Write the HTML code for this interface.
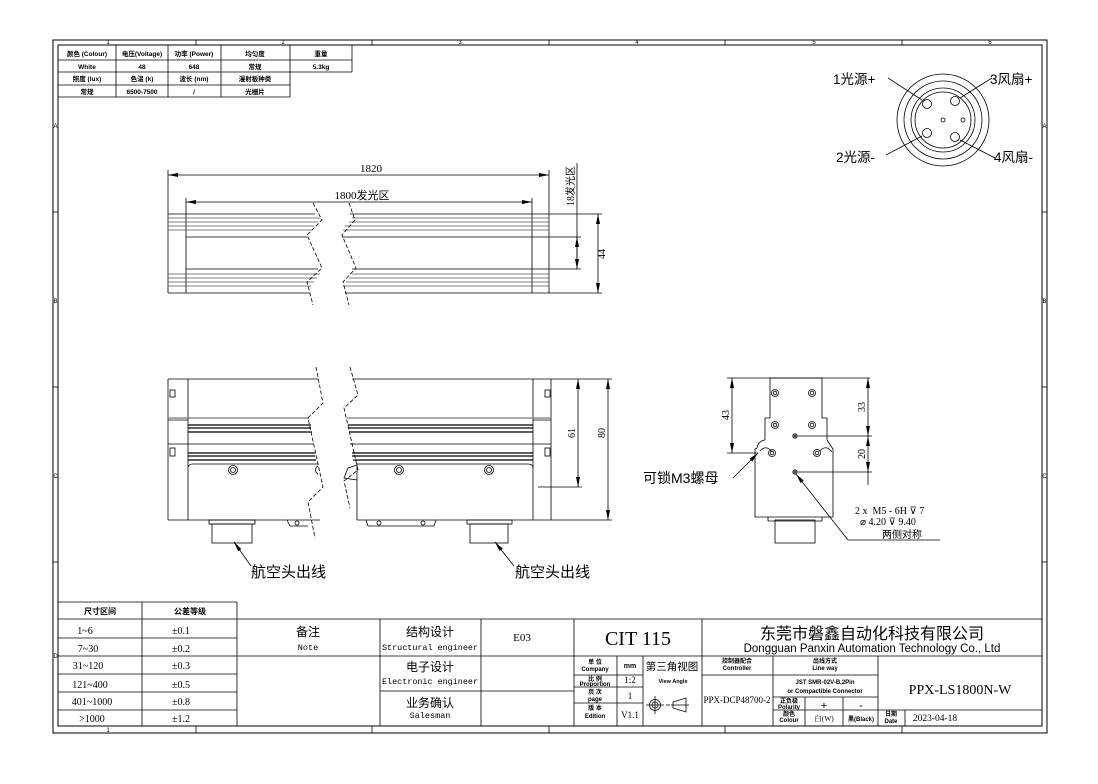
<!DOCTYPE html>
<html><head><meta charset="utf-8"><style>
html,body{margin:0;padding:0;background:#fff}
svg{display:block}
.s{font-family:"Liberation Sans","Noto Sans CJK SC",sans-serif}
.m{font-family:"Liberation Serif","Noto Serif CJK SC",serif}
.c{font-family:"Liberation Mono","Noto Sans CJK SC",monospace}
</style></head><body>
<svg width="1098" height="784" viewBox="0 0 1098 784" xmlns="http://www.w3.org/2000/svg" stroke="#000" fill="none" stroke-width="1">
<defs>
<marker id="a" viewBox="0 0 10 4" refX="10" refY="2" markerWidth="10" markerHeight="4" orient="auto-start-reverse" markerUnits="userSpaceOnUse"><path d="M0,0L10,2L0,4z" fill="#000" stroke="none"/></marker>
</defs>
<rect x="53" y="40" width="994" height="693"/>
<rect x="58" y="45" width="984" height="681"/>
<g stroke-width="0.8">
<line x1="196" y1="40" x2="196" y2="45"/><line x1="372" y1="40" x2="372" y2="45"/><line x1="549" y1="40" x2="549" y2="45"/><line x1="725" y1="40" x2="725" y2="45"/><line x1="902" y1="40" x2="902" y2="45"/>
<line x1="196" y1="726" x2="196" y2="733"/><line x1="372" y1="726" x2="372" y2="733"/><line x1="549" y1="726" x2="549" y2="733"/><line x1="725" y1="726" x2="725" y2="733"/><line x1="902" y1="726" x2="902" y2="733"/>
<line x1="53" y1="212" x2="58" y2="212"/><line x1="53" y1="387" x2="58" y2="387"/><line x1="53" y1="562" x2="58" y2="562"/>
<line x1="1042" y1="212" x2="1047" y2="212"/><line x1="1042" y1="387" x2="1047" y2="387"/><line x1="1042" y1="562" x2="1047" y2="562"/>
</g>
<g class="s" font-size="6" fill="#000" stroke="none" text-anchor="middle">
<text x="108" y="44">1</text><text x="283" y="44">2</text><text x="460" y="44">3</text><text x="637" y="44">4</text><text x="814" y="44">5</text><text x="990" y="44">6</text>
<text x="108" y="732">1</text>
<text x="55.5" y="128">A</text><text x="55.5" y="303">B</text><text x="55.5" y="478">C</text><text x="55.5" y="658">D</text>
<text x="1044.5" y="128">A</text><text x="1044.5" y="303">B</text><text x="1044.5" y="478">C</text>
</g>
<g stroke-width="0.8">
<line x1="58" y1="60" x2="352" y2="60"/><line x1="58" y1="72" x2="352" y2="72"/><line x1="58" y1="85" x2="290" y2="85"/><line x1="58" y1="97" x2="290" y2="97"/>
<line x1="116" y1="45" x2="116" y2="97"/><line x1="168" y1="45" x2="168" y2="97"/><line x1="221" y1="45" x2="221" y2="97"/><line x1="290" y1="45" x2="290" y2="97"/><line x1="352" y1="45" x2="352" y2="72"/>
</g>
<g class="s" font-size="6.5" fill="#000" stroke="none" text-anchor="middle" font-weight="bold">
<text x="87" y="56">颜色 (Colour)</text><text x="142" y="56">电压(Voltage)</text><text x="194" y="56">功率 (Power)</text><text x="255" y="56">均匀度</text><text x="321" y="56">重量</text>
<text x="87" y="69">White</text><text x="142" y="69">48</text><text x="194" y="69">648</text><text x="255" y="69">常规</text><text x="321" y="69">5.3kg</text>
<text x="87" y="81">照度 (lux)</text><text x="142" y="81">色温 (k)</text><text x="194" y="81">波长 (nm)</text><text x="255" y="81">漫射板种类</text>
<text x="87" y="94">常规</text><text x="142" y="94">6500-7500</text><text x="194" y="94">/</text><text x="255" y="94">光栅片</text>
</g>
<g stroke-width="0.8">
<line x1="58" y1="602" x2="237" y2="602"/><line x1="58" y1="619" x2="1042" y2="619"/>
<line x1="58" y1="638" x2="237" y2="638"/><line x1="58" y1="656" x2="574" y2="656"/><line x1="58" y1="674" x2="237" y2="674"/><line x1="58" y1="692" x2="237" y2="692"/><line x1="380" y1="691" x2="574" y2="691"/><line x1="58" y1="710" x2="237" y2="710"/>
<line x1="142" y1="602" x2="142" y2="726"/><line x1="237" y1="602" x2="237" y2="726"/>
<line x1="380" y1="619" x2="380" y2="726"/><line x1="481" y1="619" x2="481" y2="726"/><line x1="574" y1="619" x2="574" y2="726"/>
<line x1="702" y1="619" x2="702" y2="726"/>
<line x1="574" y1="656" x2="1042" y2="656"/>
<line x1="574" y1="675" x2="643" y2="675"/><line x1="574" y1="687" x2="643" y2="687"/><line x1="574" y1="703" x2="643" y2="703"/>
<line x1="617" y1="656" x2="617" y2="726"/><line x1="643" y1="656" x2="643" y2="726"/>
<line x1="702" y1="675" x2="878" y2="675"/><line x1="773" y1="656" x2="773" y2="726"/><line x1="878" y1="656" x2="878" y2="726"/>
<line x1="773" y1="697" x2="878" y2="697"/><line x1="773" y1="710" x2="1042" y2="710"/>
<line x1="805" y1="697" x2="805" y2="726"/><line x1="843" y1="697" x2="843" y2="726"/><line x1="905" y1="710" x2="905" y2="726"/>
</g>
<g fill="#000" stroke="none" text-anchor="middle">
<g class="s" font-size="8" font-weight="bold"><text x="100" y="614">尺寸区间</text><text x="190" y="614">公差等级</text></g>
<g class="m" font-size="10">
<text x="85" y="634">1~6</text><text x="88" y="652">7~30</text><text x="88" y="669">31~120</text><text x="90" y="688">121~400</text><text x="92" y="705">401~1000</text><text x="92" y="722">&gt;1000</text>
<text x="181" y="634">±0.1</text><text x="181" y="652">±0.2</text><text x="181" y="669">±0.3</text><text x="181" y="688">±0.5</text><text x="181" y="705">±0.8</text><text x="181" y="722">±1.2</text>
</g>
<g class="s" font-size="12"><text x="308" y="636">备注</text><text x="430" y="636">结构设计</text><text x="430" y="671">电子设计</text><text x="430" y="707">业务确认</text></g>
<g class="c" font-size="8.5"><text x="308" y="650">Note</text><text x="430" y="650" textLength="96" lengthAdjust="spacingAndGlyphs">Structural engineer</text><text x="430" y="684" textLength="96" lengthAdjust="spacingAndGlyphs">Electronic engineer</text><text x="430" y="718">Salesman</text></g>
<text class="m" x="522" y="641" font-size="11">E03</text>
<text class="m" x="638" y="645" font-size="20">CIT 115</text>
<text class="s" x="872" y="639" font-size="16">东莞市磐鑫自动化科技有限公司</text>
<text class="s" x="872" y="652" font-size="11.5">Dongguan Panxin Automation Technology Co., Ltd</text>
<g class="s" font-size="6" font-weight="bold">
<text x="595" y="664">单 位</text><text x="595" y="671">Company</text>
<text x="595" y="681">比 例</text><text x="595" y="686">Proportion</text>
<text x="595" y="694">页 次</text><text x="595" y="701">page</text>
<text x="595" y="710">版 本</text><text x="595" y="718">Edition</text>
<text x="630" y="668" font-size="7">mm</text>
<text x="737" y="663">控制器配合</text><text x="737" y="670">Controller</text>
<text x="825" y="663">出线方式</text><text x="825" y="670">Line way</text>
<text x="825" y="684">JST SMR-02V-B,2Pin</text><text x="825" y="693">or Compactible Connector</text>
<text x="789" y="703">正负极</text><text x="789" y="709">Polarity</text>
<text x="789" y="716">颜色</text><text x="789" y="722">Colour</text>
<text x="861" y="721">黑(Black)</text>
<text x="891" y="716">日期</text><text x="891" y="723">Date</text>
<text x="673" y="683" font-size="5.5">View Angle</text>
</g>
<g class="m" font-size="9">
<text x="630" y="683">1:2</text><text x="630" y="699">1</text><text x="630" y="718">V1.1</text>
<text x="737" y="703">PPX-DCP48700-2</text>
<text x="824" y="721" font-size="7.5">白(W)</text>
<text x="960" y="694" font-size="14">PPX-LS1800N-W</text>
<text x="935" y="721" font-size="9.5">2023-04-18</text>
</g>
<text class="s" x="672" y="670" font-size="10.5">第三角视图</text>
<text class="s" x="824" y="709" font-size="11">+</text><text class="s" x="861" y="709" font-size="11">-</text>
</g>
<g stroke-width="0.8">
<circle cx="655" cy="705" r="5.5"/><circle cx="655" cy="705" r="3"/><line x1="646" y1="705" x2="664" y2="705"/><line x1="655" y1="696" x2="655" y2="714"/>
<line x1="666" y1="705" x2="670" y2="705"/>
<path d="M673,702 L686,698 L686,712 L673,708 Z"/><line x1="671" y1="705" x2="689" y2="705"/>
</g>

<g stroke-width="0.8">
<line x1="168" y1="214" x2="315" y2="214"/><line x1="350" y1="214" x2="549" y2="214"/>
<line x1="168" y1="293" x2="310" y2="293"/><line x1="345" y1="293" x2="549" y2="293"/>
<line x1="168" y1="214" x2="168" y2="293"/><line x1="186" y1="214" x2="186" y2="293"/><line x1="532" y1="214" x2="532" y2="293"/><line x1="549" y1="214" x2="549" y2="293"/>
<g stroke="#555">
<line x1="168" y1="218" x2="320" y2="218"/><line x1="352" y1="218" x2="549" y2="218"/>
<line x1="168" y1="222" x2="318" y2="222"/><line x1="349" y1="222" x2="549" y2="222"/>
<line x1="168" y1="226" x2="314" y2="226"/><line x1="345" y1="226" x2="549" y2="226"/>
<line x1="168" y1="230" x2="311" y2="230"/><line x1="343" y1="230" x2="549" y2="230"/>
<line x1="168" y1="274" x2="320" y2="274"/><line x1="352" y1="274" x2="549" y2="274"/>
<line x1="168" y1="278" x2="317" y2="278"/><line x1="349" y1="278" x2="549" y2="278"/>
<line x1="168" y1="282" x2="314" y2="282"/><line x1="346" y1="282" x2="549" y2="282"/>
<line x1="168" y1="286" x2="311" y2="286"/><line x1="343" y1="286" x2="549" y2="286"/>
</g>
<line x1="186" y1="237" x2="307" y2="237"/><line x1="342" y1="237" x2="532" y2="237"/>
<line x1="186" y1="269" x2="318" y2="269"/><line x1="352" y1="269" x2="532" y2="269"/>
<path d="M313,203 L322,220 L307,235 L322,268 L307,282 L313,305" stroke-dasharray="4,2"/>
<path d="M349,203 L355,220 L342,235 L356,268 L343,282 L349,305" stroke-dasharray="4,2"/>
<line x1="168" y1="170" x2="168" y2="214"/><line x1="549" y1="170" x2="549" y2="214"/>
<line x1="168" y1="175" x2="549" y2="175" marker-start="url(#a)" marker-end="url(#a)"/>
<line x1="186" y1="198" x2="186" y2="214"/><line x1="532" y1="198" x2="532" y2="214"/>
<line x1="186" y1="202" x2="532" y2="202" marker-start="url(#a)" marker-end="url(#a)"/>
<line x1="549" y1="214" x2="602" y2="214"/><line x1="549" y1="293" x2="602" y2="293"/>
<line x1="598" y1="214" x2="598" y2="293" marker-start="url(#a)" marker-end="url(#a)"/>
<line x1="532" y1="237" x2="581" y2="237"/><line x1="532" y1="269" x2="581" y2="269"/>
<line x1="577" y1="163" x2="577" y2="269"/>
<line x1="577" y1="237" x2="577" y2="269" marker-start="url(#a)" marker-end="url(#a)"/>
</g>
<g fill="#000" stroke="none">
<text class="m" x="371" y="172" font-size="11" text-anchor="middle">1820</text>
<text class="m" x="362" y="199" font-size="11" text-anchor="middle">1800<tspan class="s">发光区</tspan></text>
<text class="m" x="0" y="0" font-size="10" text-anchor="middle" transform="translate(605,254) rotate(-90)">44</text>
<text class="m" x="0" y="0" font-size="10" text-anchor="middle" transform="translate(574,186) rotate(-90)">18<tspan class="s">发光区</tspan></text>
</g>

<g stroke-width="0.8">
<line x1="168" y1="379" x2="318" y2="379"/><line x1="352" y1="379" x2="551" y2="379"/>
<line x1="168" y1="379" x2="168" y2="520"/><line x1="188" y1="379" x2="188" y2="520"/><line x1="533" y1="379" x2="533" y2="520"/><line x1="551" y1="379" x2="551" y2="520"/>
<rect x="170" y="390" width="5" height="7"/><rect x="545" y="390" width="5" height="7"/><rect x="170" y="448" width="5" height="8"/><rect x="545" y="448" width="5" height="8"/>
<g stroke="#777" stroke-width="1.3"><line x1="168" y1="418" x2="309" y2="418"/><line x1="347" y1="418" x2="551" y2="418"/></g>
<g stroke-width="1.2">
<line x1="188" y1="425" x2="311" y2="425"/><line x1="348" y1="425" x2="533" y2="425"/>
<line x1="188" y1="428" x2="311" y2="428"/><line x1="348" y1="428" x2="533" y2="428"/>
<line x1="188" y1="432" x2="312" y2="432"/><line x1="349" y1="432" x2="533" y2="432"/>
<line x1="188" y1="453" x2="315" y2="453"/><line x1="352" y1="453" x2="533" y2="453"/>
<line x1="188" y1="456" x2="315" y2="456"/><line x1="352" y1="456" x2="533" y2="456"/>
<line x1="188" y1="460" x2="316" y2="460"/><line x1="353" y1="460" x2="533" y2="460"/>
</g>
<line x1="168" y1="444" x2="314" y2="444"/><line x1="350" y1="444" x2="551" y2="444"/>
<line x1="168" y1="420" x2="188" y2="420"/><line x1="533" y1="420" x2="551" y2="420"/>
<path d="M188,467 Q189,464 193,464 L318,464"/><path d="M357,464 L528,464 Q533,464 533,468"/>
<line x1="168" y1="520" x2="320" y2="520"/><line x1="357" y1="520" x2="551" y2="520"/>
<line x1="357" y1="464" x2="357" y2="520"/>
<path d="M357,465 L348,468 L344,478 L357,480"/>
<circle cx="233" cy="470" r="4.5"/><circle cx="233" cy="470" r="2.5"/>
<circle cx="399" cy="470" r="4.5"/><circle cx="399" cy="470" r="2.5"/>
<circle cx="489" cy="470" r="4.5"/><circle cx="489" cy="470" r="2.5"/>
<path d="M318,466 A4.5,4.5 0 0 0 318,474"/>
<rect x="209" y="520" width="46" height="4"/><rect x="212" y="524" width="40" height="19"/>
<rect x="467" y="520" width="45" height="4"/><rect x="470" y="524" width="38" height="19"/>
<path d="M366,520 L368,526 L434,526 L436,520"/><circle cx="379" cy="523" r="2"/><circle cx="423" cy="523" r="2"/>
<path d="M287,520 L290,526 L308,526"/><circle cx="297" cy="523" r="2"/>
<path d="M316,367 L323,403 L308,418 L323,487 L308,502 L315,538" stroke-dasharray="4,2"/>
<path d="M350,367 L358,395 L344,408 L358,470 L344,481 L350,508" stroke-dasharray="4,2"/>
<line x1="551" y1="379" x2="612" y2="379"/><line x1="551" y1="520" x2="612" y2="520"/><line x1="538" y1="487" x2="582" y2="487"/>
<line x1="578" y1="379" x2="578" y2="487" marker-start="url(#a)" marker-end="url(#a)"/>
<line x1="608" y1="379" x2="608" y2="520" marker-start="url(#a)" marker-end="url(#a)"/>
<line x1="251" y1="566" x2="234" y2="542" marker-end="url(#a)"/>
<line x1="514" y1="566" x2="495" y2="542" marker-end="url(#a)"/>
</g>
<g fill="#000" stroke="none">
<text class="m" font-size="10" text-anchor="middle" transform="translate(575,433) rotate(-90)">61</text>
<text class="m" font-size="10" text-anchor="middle" transform="translate(605,433) rotate(-90)">80</text>
<text class="s" x="251" y="577" font-size="15">航空头出线</text>
<text class="s" x="515" y="577" font-size="15">航空头出线</text>
</g>

<g stroke-width="0.8">
<path d="M770,378 L770,418 L765,418 L765,440 M827,440 L827,418 L822,418 L822,378 L770,378"/>
<path d="M765,440 Q758,441 757,448 L755,449 L755,517 L833,517 L833,449 L827,440"/>
<path d="M760,451 Q766,444 772,452"/><path d="M820,451 Q826,444 832,452"/>
<rect x="775" y="520" width="40" height="23"/><path d="M768,517 L768,521 L822,521 L822,517"/>
<circle cx="775" cy="393" r="3.5"/><circle cx="775" cy="393" r="1.8"/>
<circle cx="812" cy="393" r="3.5"/><circle cx="812" cy="393" r="1.8"/>
<circle cx="775" cy="425" r="3.5"/><circle cx="775" cy="425" r="1.8"/>
<circle cx="812" cy="425" r="3.5"/><circle cx="812" cy="425" r="1.8"/>
<circle cx="772" cy="453" r="3.5"/><circle cx="772" cy="453" r="1.8"/>
<circle cx="817" cy="453" r="3.5"/><circle cx="817" cy="453" r="1.8"/>
<circle cx="795" cy="436" r="2.2"/><circle cx="795" cy="436" r="1"/>
<circle cx="795" cy="472" r="2.2"/><circle cx="795" cy="472" r="1"/>
<line x1="770" y1="378" x2="870" y2="378"/><line x1="727" y1="378" x2="770" y2="378"/><line x1="727" y1="453" x2="758" y2="453"/>
<line x1="732" y1="378" x2="732" y2="453" marker-start="url(#a)" marker-end="url(#a)"/>
<line x1="798" y1="436" x2="872" y2="436"/><line x1="798" y1="472" x2="872" y2="472"/>
<line x1="868" y1="378" x2="868" y2="436" marker-start="url(#a)" marker-end="url(#a)"/>
<line x1="868" y1="436" x2="868" y2="472" marker-start="url(#a)" marker-end="url(#a)"/>
<line x1="868" y1="472" x2="868" y2="485"/>
<line x1="733" y1="478" x2="758" y2="453" marker-end="url(#a)"/>
<line x1="848" y1="540" x2="796" y2="474" marker-end="url(#a)"/>
<line x1="848" y1="540" x2="940" y2="540"/>
</g>
<g fill="#000" stroke="none">
<text class="m" font-size="10" text-anchor="middle" transform="translate(729,415) rotate(-90)">43</text>
<text class="m" font-size="10" text-anchor="middle" transform="translate(865,407) rotate(-90)">33</text>
<text class="m" font-size="10" text-anchor="middle" transform="translate(865,454) rotate(-90)">20</text>
<text class="s" x="643" y="483" font-size="14">可锁M3螺母</text>
<text class="m" x="855" y="514" font-size="10" xml:space="preserve">2 x  M5 - 6H ⊽ 7</text>
<text class="m" x="860" y="525" font-size="10">⌀ 4.20 ⊽ 9.40</text>
<text class="s" x="882" y="538" font-size="10">两侧对称</text>
</g>

<g stroke-width="0.8">
<circle cx="943" cy="120" r="46"/><circle cx="943" cy="120" r="39"/><circle cx="943" cy="120" r="32"/><circle cx="943" cy="120" r="28"/>
<circle cx="927" cy="104" r="4.5"/><circle cx="955" cy="101" r="4.5"/><circle cx="927" cy="133" r="4.5"/><circle cx="955" cy="137" r="4.5"/>
<circle cx="943" cy="120" r="2"/><circle cx="963" cy="120" r="2"/>
<line x1="888" y1="78" x2="922" y2="100"/><line x1="992" y1="78" x2="960" y2="98"/>
<line x1="886" y1="155" x2="922" y2="136"/><line x1="995" y1="158" x2="960" y2="140"/>
</g>
<g class="s" fill="#000" stroke="none" font-size="13.5">
<text x="833" y="84">1光源+</text><text x="990" y="84">3风扇+</text>
<text x="836" y="162">2光源-</text><text x="994" y="162">4风扇-</text>
</g>
</svg>
</body></html>
